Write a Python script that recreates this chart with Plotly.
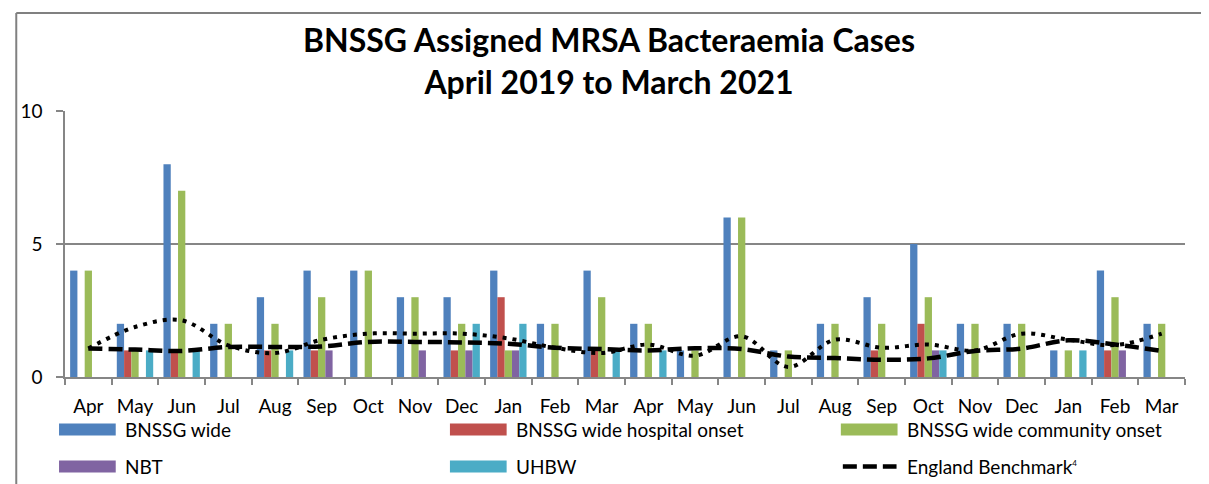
import plotly.graph_objects as go

# ---- data ----
months = ["Apr", "May", "Jun", "Jul", "Aug", "Sep", "Oct", "Nov", "Dec", "Jan", "Feb", "Mar",
          "Apr", "May", "Jun", "Jul", "Aug", "Sep", "Oct", "Nov", "Dec", "Jan", "Feb", "Mar"]
years = [2019] * 9 + [2020] * 12 + [2021] * 3
categories = [f"{m} {y}" for m, y in zip(months, years)]

bnssg_wide = [4, 2, 8, 2, 3, 4, 4, 3, 3, 4, 2, 4, 2, 1, 6, 1, 2, 3, 5, 2, 2, 1, 4, 2]
hospital_onset = [0, 1, 1, 0, 1, 1, 0, 0, 1, 3, 0, 1, 0, 0, 0, 0, 0, 1, 2, 0, 0, 0, 1, 0]
community_onset = [4, 1, 7, 2, 2, 3, 4, 3, 2, 1, 2, 3, 2, 1, 6, 1, 2, 2, 3, 2, 2, 1, 3, 2]
nbt = [0, 0, 0, 0, 0, 1, 0, 1, 1, 1, 0, 0, 0, 0, 0, 0, 0, 0, 1, 0, 0, 0, 1, 0]
uhbw = [0, 1, 1, 0, 1, 0, 0, 0, 2, 2, 0, 1, 1, 0, 0, 0, 0, 0, 1, 0, 0, 1, 0, 0]
england_benchmark = [1.07, 1.03, 0.98, 1.13, 1.13, 1.15, 1.32, 1.32, 1.30, 1.25, 1.10, 1.05,
                     1.00, 1.08, 1.05, 0.77, 0.71, 0.65, 0.70, 0.98, 1.07, 1.38, 1.22, 0.98]
dotted_series = [1.07, 1.88, 2.13, 1.19, 0.90, 1.40, 1.63, 1.63, 1.63, 1.45, 1.10, 0.90,
                 1.22, 0.80, 1.53, 0.38, 1.40, 1.10, 1.22, 1.00, 1.63, 1.40, 1.20, 1.63]

bar_names = ["BNSSG wide", "BNSSG wide hospital onset", "BNSSG wide community onset", "NBT", "UHBW"]
bar_values = [bnssg_wide, hospital_onset, community_onset, nbt, uhbw]
bar_colors = ["#4F81BD", "#C0504D", "#9BBB59", "#8064A2", "#4BACC6"]
line_name = "England Benchmark"

FONT = "Lato, Carlito, Calibri, sans-serif"
W, H = 1209, 484
OFF = 8  # page body margin, reference pixel positions are shifted by this
ML, MR, MT, MB = 59 - OFF, 24 + OFF, 111 - OFF, 107 + OFF
PW, PH = W - ML - MR, H - MT - MB


def px_x(p):
    # reference pixel x -> paper coordinate
    return (p - OFF - ML) / PW


def px_y(p):
    return (H - MB - (p - OFF)) / PH


fig = go.Figure()
for name, vals, col in zip(bar_names, bar_values, bar_colors):
    fig.add_trace(go.Bar(x=categories, y=vals, name=name, marker_color=col,
                         marker_line_width=0, showlegend=False))

fig.add_trace(go.Scatter(x=categories, y=dotted_series, mode="lines", showlegend=False,
                         line=dict(color="black", width=4, dash="4px,6px", shape="spline")))
fig.add_trace(go.Scatter(x=categories, y=england_benchmark, mode="lines", name=line_name,
                         showlegend=False,
                         line=dict(color="black", width=4.5, dash="14px,6px", shape="spline")))

# frame lines (top and left)
shapes = [
    dict(type="line", xref="paper", yref="paper", x0=px_x(10), x1=px_x(W + OFF), y0=px_y(13), y1=px_y(13),
         line=dict(color="#808080", width=2)),
    dict(type="line", xref="paper", yref="paper", x0=px_x(10), x1=px_x(10), y0=px_y(13), y1=px_y(H + OFF),
         line=dict(color="#808080", width=2)),
]
annotations = []

# legend, 3 columns x 2 rows
legend_names = bar_names + [line_name + "<sup><span style='font-size:8px'>4</span></sup>"]
for i, name in enumerate(legend_names):
    col, row = i % 3, i // 3
    x0 = 53 + 393 * col
    yc = 429.5 + 37 * row
    if i < len(bar_colors):
        shapes.append(dict(type="rect", xref="paper", yref="paper",
                           x0=px_x(x0), x1=px_x(x0 + 57), y0=px_y(yc - 6), y1=px_y(yc + 6),
                           fillcolor=bar_colors[i], line=dict(width=0)))
    else:
        shapes.append(dict(type="line", xref="paper", yref="paper",
                           x0=px_x(x0 + 2), x1=px_x(x0 + 56), y0=px_y(yc), y1=px_y(yc),
                           line=dict(color="black", width=4.5, dash="14px,6px")))
    annotations.append(dict(text=name, xref="paper", yref="paper", x=px_x(x0 + 64), y=px_y(yc),
                            xanchor="left", yanchor="middle", showarrow=False,
                            font=dict(family=FONT, size=19, color="black")))

fig.update_layout(
    width=W, height=H,
    margin=dict(l=ML, r=MR, t=MT, b=MB),
    paper_bgcolor="white", plot_bgcolor="white",
    font=dict(family=FONT, size=19, color="black"),
    title=dict(text="<b>BNSSG Assigned MRSA Bacteraemia Cases<br>April 2019 to March 2021</b>",
               x=(609 - OFF) / W, xanchor="center", y=1 - (52 - OFF) / H, yanchor="middle",
               font=dict(family=FONT, size=32, color="black")),
    barmode="group", bargap=0.22, bargroupgap=0,
    showlegend=False,
    shapes=shapes, annotations=annotations,
)
fig.update_xaxes(type="category", tickmode="array", tickvals=categories, ticktext=months,
                 tickson="boundaries", ticks="outside", ticklen=6, tickcolor="#868686", tickwidth=1.5,
                 showline=True, linecolor="#868686", linewidth=1.5, showgrid=False,
                 tickfont=dict(family=FONT, size=19), ticklabelstandoff=11)
fig.update_yaxes(range=[0, 10], tickvals=[0, 5, 10], ticks="outside", ticklen=7,
                 tickcolor="#868686", tickwidth=1.5, showline=True, linecolor="#868686", linewidth=1.5,
                 showgrid=True, gridcolor="#868686", gridwidth=1.5, zeroline=False,
                 tickfont=dict(family=FONT, size=19), ticklabelstandoff=10)

fig.write_html("out.html")
